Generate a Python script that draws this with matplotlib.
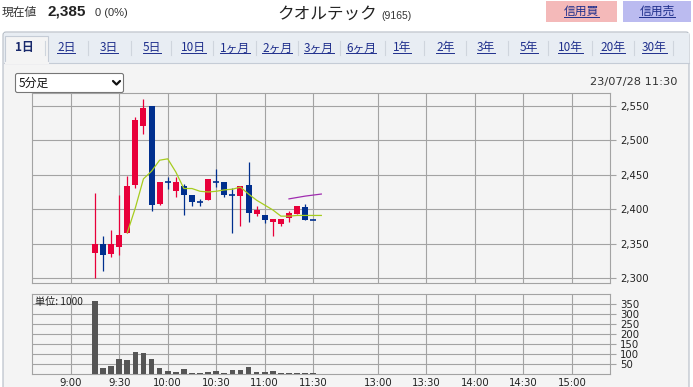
import matplotlib
matplotlib.use('Agg')
import matplotlib.pyplot as plt
from matplotlib.patches import Rectangle, FancyBboxPatch

# 5-minute candles (morning session)
times = ['9:15', '9:20', '9:25', '9:30', '9:35', '9:40', '9:45', '9:50', '9:55',
         '10:00', '10:05', '10:10', '10:15', '10:20', '10:25', '10:30', '10:35',
         '10:40', '10:45', '10:50', '10:55', '11:00', '11:05', '11:10', '11:15',
         '11:20', '11:25', '11:30']
opens = [2336, 2350, 2335, 2345, 2365, 2435, 2521, 2549, 2407, 2439, 2426, 2434,
         2421, 2411, 2414, 2440, 2440, 2420, 2419, 2435, 2393, 2392, 2382, 2379,
         2388, 2393, 2403, 2385]
highs = [2423, 2361, 2370, 2420, 2448, 2533, 2559, 2549, 2439, 2446, 2447, 2436,
         2421, 2415, 2444, 2458, 2440, 2431, 2434, 2469, 2404, 2392, 2386, 2386,
         2398, 2405, 2408, 2385]
lows = [2300, 2310, 2331, 2334, 2365, 2431, 2509, 2397, 2406, 2430, 2418, 2392,
        2404, 2405, 2413, 2432, 2417, 2365, 2375, 2381, 2390, 2380, 2361, 2375,
        2382, 2393, 2385, 2385]
closes = [2350, 2333, 2350, 2362, 2434, 2529, 2546, 2406, 2439, 2439, 2439, 2421,
          2410, 2411, 2444, 2440, 2420, 2420, 2433, 2395, 2399, 2385, 2386, 2386,
          2395, 2405, 2385, 2385]
volumes = [367, 28, 38, 73, 68, 108, 103, 73, 28, 13, 8, 23, 2, 2, 8, 13, 2, 18,
           18, 33, 8, 8, 13, 2, 2, 2, 2, 2]

# short moving average (yellow-green) and long moving average (purple)
ma_short_times = ['9:35', '9:40', '9:45', '9:50', '9:55', '10:00', '10:05', '10:10',
                  '10:15', '10:20', '10:25', '10:30', '10:35', '10:40', '10:45',
                  '10:50', '10:55', '11:00', '11:05', '11:10', '11:15', '11:20',
                  '11:25', '11:30', '11:35']
ma_short = [2366, 2402, 2444, 2455, 2471, 2473, 2454, 2430, 2430, 2426, 2425, 2426,
            2428, 2429, 2432, 2422, 2413, 2406, 2399, 2390, 2390, 2391, 2391, 2391,
            2391]
ma_long_times = ['11:15', '11:20', '11:25', '11:30', '11:35']
ma_long = [2415, 2417, 2419, 2420.5, 2422]

time_ticks = ['9:00', '9:30', '10:00', '10:30', '11:00', '11:30',
              '13:00', '13:30', '14:00', '14:30', '15:00']
price_ticks = [2300, 2350, 2400, 2450, 2500, 2550]
volume_ticks = [50, 100, 150, 200, 250, 300, 350]

tabs = ['1日', '2日', '3日', '5日', '10日', '1ヶ月', '2ヶ月', '3ヶ月', '6ヶ月',
        '1年', '2年', '3年', '5年', '10年', '20年', '30年']

RED = '#e8003a'
BLUE = '#002f8e'
GREEN = '#a6cc1e'
PURPLE = '#a02cb0'
GRID = '#a3a3a3'
PANEL = '#f4f4f4'
LINK = '#1f2f8c'
JP = ['Noto Sans CJK JP', 'DejaVu Sans']


def tpos(s):
    # minutes from 9:00, lunch break squeezed to 40 minutes
    h, m = map(int, s.split(':'))
    v = (h - 9) * 60 + m
    return v - 50 if h >= 12 else v


W, H = 693, 387
fig = plt.figure(figsize=(W / 100, H / 100), dpi=100)
fig.patch.set_facecolor('white')


def box(l, t, r, b):
    return [l / W, 1 - b / H, (r - l) / W, (b - t) / H]


# page chrome in pixel coordinates
bg = fig.add_axes([0, 0, 1, 1])
bg.set_xlim(0, W)
bg.set_ylim(H, 0)
bg.axis('off')

bg.add_patch(FancyBboxPatch((3, 32), 686, 370, boxstyle='round,pad=0,rounding_size=3',
                            fc=PANEL, ec='#b4bcc6', lw=0.8))
bg.add_patch(Rectangle((3.5, 32.5), 685, 30, fc='#e8edf3', ec='none'))
bg.plot([3.5, 688.5], [62.5, 62.5], color='#c5ccd6', lw=0.8)
bg.add_patch(Rectangle((5, 36), 43, 27, fc=PANEL, ec='#c5ccd6', lw=0.8))
bg.plot([5.5, 47.5], [62.6, 62.6], color=PANEL, lw=1.5)

bg.text(2, 12, '現在値', family=JP, fontsize=8.5, color='#333333', va='center')
bg.text(48, 12, '2,385', family='Liberation Sans', fontweight='bold', fontsize=11,
        color='#222222', va='center')
bg.text(95, 12.5, '0 (0%)', family='Liberation Sans', fontsize=8, color='#333333',
        va='center')
bg.text(277, 14, 'クオルテック', family=JP, fontsize=12, color='#222222', va='center')
bg.text(381, 16, '(9165)', family='Liberation Sans', fontsize=7.5, color='#333333',
        va='center')

bg.add_patch(Rectangle((546, 1), 71, 21, fc='#f4b9b9', ec='none'))
bg.add_patch(Rectangle((623, 1), 68, 21, fc='#bbbbf0', ec='none'))
links = []
links.append(bg.text(581.5, 11.5, '信用買', family=JP, fontsize=8.5, color=LINK,
                     ha='center', va='center'))
links.append(bg.text(657, 11.5, '信用売', family=JP, fontsize=8.5, color=LINK,
                     ha='center', va='center'))

tab_x = [15, 57, 100, 143, 181, 220, 262, 304, 346, 393, 436, 477, 520, 558, 600, 642]
tab_texts = []
for i, (lab, tx) in enumerate(zip(tabs, tab_x)):
    t = bg.text(tx, 48, lab, family=JP, fontsize=8.5, va='center',
                color='#1a2a6c' if i == 0 else LINK,
                fontweight='bold' if i == 0 else 'normal')
    tab_texts.append(t)
    if i > 0:
        links.append(t)

# dropdown
bg.add_patch(FancyBboxPatch((15.5, 73.5), 108, 19, boxstyle='round,pad=0,rounding_size=2',
                            fc='white', ec='#767676', lw=0.8))
bg.text(19, 83, '5分足', family=JP, fontsize=8.5, color='#111111', va='center')
bg.plot([113, 116.5, 120], [81, 84.5, 81], color='#111111', lw=1.6,
        solid_capstyle='round', solid_joinstyle='round')

bg.text(678, 82, '23/07/28 11:30', family='DejaVu Sans', fontsize=8.2,
        color='#333333', ha='right', va='center')

# price panel
ax = fig.add_axes(box(31.7, 93.3, 610.3, 282.7))
ax.set_facecolor(PANEL)
xs = [tpos(t) for t in times]
bw = 3.7
for xi, o, h, l, c in zip(xs, opens, highs, lows, closes):
    col = RED if c > o else BLUE
    ax.vlines(xi, l, h, color=col, lw=0.9, zorder=3)
    if c == o:
        ax.hlines(c, xi - bw / 2, xi + bw / 2, color=col, lw=1.2, zorder=3)
    else:
        ax.bar(xi, abs(c - o), bottom=min(o, c), width=bw, color=col, zorder=3)
ax.plot([tpos(t) for t in ma_short_times], ma_short, color=GREEN, lw=0.9, zorder=4)
ax.plot([tpos(t) for t in ma_long_times], ma_long, color=PURPLE, lw=0.9, zorder=4)

xmin, xmax = -24.1, 333.7
ax.set_xlim(xmin, xmax)
ax.set_ylim(2293.6, 2567.9)
ax.set_xticks([tpos(t) for t in time_ticks])
ax.set_xticklabels([])
ax.tick_params(axis='x', length=0)
ax.yaxis.tick_right()
ax.set_yticks(price_ticks)
ax.set_yticklabels([f'{p:,}' for p in price_ticks])
ax.tick_params(axis='y', length=4, width=0.8, color=GRID, pad=3, labelsize=7.3,
               labelcolor='#222222')
ax.grid(True, color=GRID, lw=0.8)
ax.set_axisbelow(True)
for s in ax.spines.values():
    s.set_color(GRID)
    s.set_linewidth(0.8)

# volume panel
vax = fig.add_axes(box(31.7, 294.3, 610.3, 373.5))
vax.set_facecolor(PANEL)
vax.bar(xs, volumes, width=3.5, color='#555555', zorder=3)
vax.set_xlim(xmin, xmax)
vax.set_ylim(0, 400)
vax.set_xticks([tpos(t) for t in time_ticks])
vax.set_xticklabels(time_ticks)
vax.tick_params(axis='x', length=0, pad=3, labelsize=7.3, labelcolor='#222222')
vax.yaxis.tick_right()
vax.set_yticks(volume_ticks)
vax.set_yticklabels([str(v) for v in volume_ticks])
vax.tick_params(axis='y', length=4, width=0.8, color=GRID, pad=3, labelsize=7.3,
                labelcolor='#222222')
vax.grid(True, color=GRID, lw=0.8)
vax.set_axisbelow(True)
for s in vax.spines.values():
    s.set_color(GRID)
    s.set_linewidth(0.8)
vax.text(0.006, 0.9, '単位: 1000', transform=vax.transAxes, family=JP, fontsize=7.3,
         color='#222222', va='center', zorder=5)

# underlines for links and separators between tabs
fig.canvas.draw()
renderer = fig.canvas.get_renderer()
inv = bg.transData.inverted()
for t in links:
    bb = t.get_window_extent(renderer)
    (x0, y0), (x1, y1) = inv.transform([[bb.x0, bb.y0], [bb.x1, bb.y1]])
    yy = max(y0, y1) - 1.5
    bg.plot([x0, x1], [yy, yy], color=t.get_color(), lw=0.7)
ext = []
for t in tab_texts:
    bb = t.get_window_extent(renderer)
    (x0, _), (x1, _) = inv.transform([[bb.x0, bb.y0], [bb.x1, bb.y1]])
    ext.append((x0, x1))
for (a0, a1), (b0, b1) in zip(ext[:-1], ext[1:]):
    sx = (a1 + b0) / 2
    bg.plot([sx, sx], [41, 55], color='#cfd5dd', lw=0.8)
sx = ext[-1][1] + 6
bg.plot([sx, sx], [41, 55], color='#cfd5dd', lw=0.8)

fig.savefig('out.png', dpi=100)
